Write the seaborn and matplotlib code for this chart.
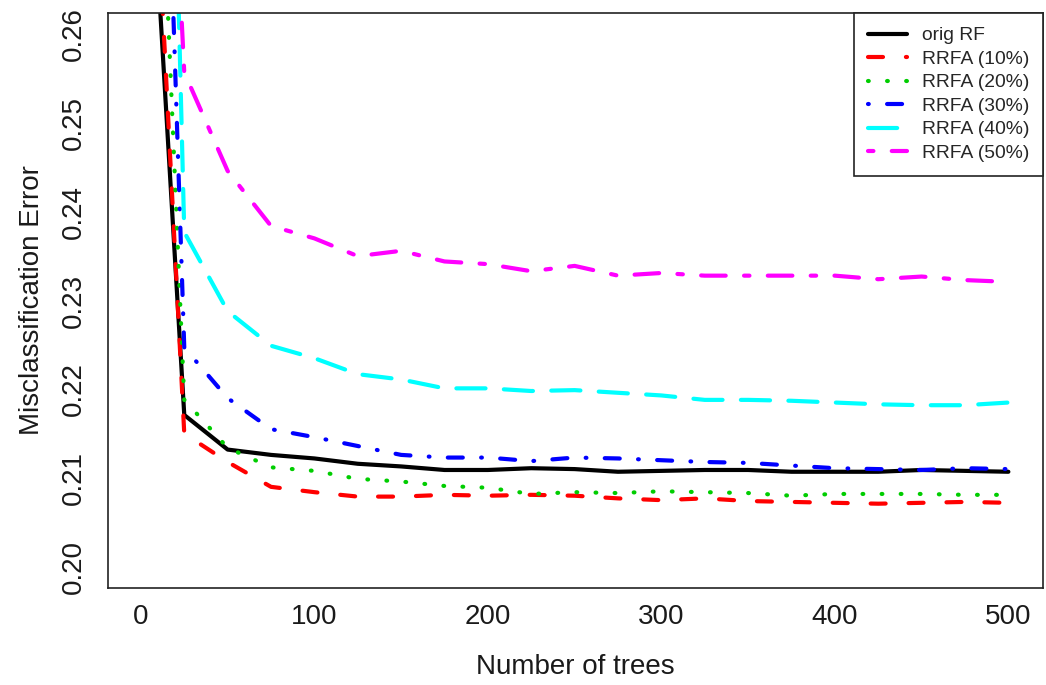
import matplotlib
matplotlib.use("Agg")
import matplotlib.pyplot as plt
import pandas as pd
import seaborn as sns

# Number of trees in the forest
trees = [1, 25, 50, 75, 100, 125, 150, 175, 200, 225, 250,
         275, 300, 325, 350, 375, 400, 425, 450, 475, 500]

# Misclassification error per method
orig_rf = [0.296, 0.2171, 0.2132, 0.2126, 0.2122, 0.2116, 0.2113, 0.2109, 0.2109, 0.2111, 0.2110,
           0.2107, 0.2108, 0.2109, 0.2109, 0.2107, 0.2107, 0.2107, 0.2109, 0.2108, 0.2107]
rrfa_10 = [0.307, 0.2150, 0.2118, 0.2090, 0.2084, 0.2079, 0.2079, 0.2081, 0.2080, 0.2081, 0.2080,
           0.2077, 0.2075, 0.2077, 0.2074, 0.2073, 0.2072, 0.2071, 0.2072, 0.2073, 0.2072]
rrfa_20 = [0.330, 0.2188, 0.2134, 0.2112, 0.2108, 0.2099, 0.2096, 0.2091, 0.2089, 0.2082, 0.2084,
           0.2083, 0.2085, 0.2084, 0.2083, 0.2080, 0.2082, 0.2082, 0.2082, 0.2081, 0.2081]
rrfa_30 = [0.368, 0.2247, 0.2190, 0.2155, 0.2146, 0.2136, 0.2126, 0.2123, 0.2123, 0.2119, 0.2123,
           0.2122, 0.2120, 0.2118, 0.2117, 0.2114, 0.2111, 0.2110, 0.2109, 0.2111, 0.2110]
rrfa_40 = [0.426, 0.2377, 0.2288, 0.2249, 0.2235, 0.2217, 0.2211, 0.2201, 0.2201, 0.2198, 0.2199,
           0.2196, 0.2193, 0.2188, 0.2188, 0.2187, 0.2185, 0.2183, 0.2182, 0.2182, 0.2185]
rrfa_50 = [0.350, 0.2557, 0.2446, 0.2384, 0.2370, 0.2350, 0.2356, 0.2344, 0.2341, 0.2333, 0.2339,
           0.2328, 0.2331, 0.2328, 0.2328, 0.2328, 0.2328, 0.2324, 0.2327, 0.2323, 0.2321]

methods = ["orig RF", "RRFA (10%)", "RRFA (20%)", "RRFA (30%)", "RRFA (40%)", "RRFA (50%)"]
series = [orig_rf, rrfa_10, rrfa_20, rrfa_30, rrfa_40, rrfa_50]
colors = ["#000000", "#FF0000", "#00CD00", "#0000FF", "#00FFFF", "#FF00FF"]

x_ticks = [0, 100, 200, 300, 400, 500]
x_tick_labels = ["0", "100", "200", "300", "400", "500"]
y_ticks = [0.20, 0.21, 0.22, 0.23, 0.24, 0.25, 0.26]
y_tick_labels = ["0.20", "0.21", "0.22", "0.23", "0.24", "0.25", "0.26"]

# R-like line types (solid, dashed, dotted, dotdash, longdash, twodash),
# expressed in line-width units for round-capped strokes
dash_map = {
    "orig RF": "",
    "RRFA (10%)": (3.6, 5.5),
    "RRFA (20%)": (0.18, 4.4),
    "RRFA (30%)": (0.18, 4.4, 3.6, 4.4),
    "RRFA (40%)": (7.0, 4.4),
    "RRFA (50%)": (1.3, 4.4, 5.9, 4.4),
}

df = pd.DataFrame({
    "trees": trees * len(methods),
    "error": [v for s in series for v in s],
    "method": [m for m in methods for _ in trees],
})

sns.set_theme(style="white")
plt.rcParams["font.family"] = ["Liberation Sans", "DejaVu Sans"]

W, H = 1046, 685
fig = plt.figure(figsize=(W / 100, H / 100), dpi=100)
ax = fig.add_axes([108 / W, 97 / H, 935 / W, 575 / H])

sns.lineplot(
    data=df, x="trees", y="error", hue="method", style="method",
    hue_order=methods, style_order=methods,
    palette=dict(zip(methods, colors)), dashes=dash_map,
    linewidth=3.0, errorbar=None, legend=False, ax=ax,
    dash_capstyle="round", solid_capstyle="round",
    dash_joinstyle="round", solid_joinstyle="round",
)

ax.set_xlim(-18.96, 519.96)
ax.set_ylim(0.1976, 0.2624)

ax.set_xticks(x_ticks)
ax.set_xticklabels(x_tick_labels)
ax.set_yticks(y_ticks)
ax.set_yticklabels(y_tick_labels, rotation=90, va="center")
ax.tick_params(axis="both", direction="out", length=8.2, width=1.0,
               colors="black", labelsize=20, labelcolor="#1a1a1a")
ax.tick_params(axis="x", pad=3.5)
ax.tick_params(axis="y", pad=7)

for sp in ax.spines.values():
    sp.set_visible(True)
    sp.set_color("#222222")
    sp.set_linewidth(1.2)

ax.set_xlabel("Number of trees", fontsize=20, color="#1a1a1a")
ax.set_ylabel("Misclassification Error", fontsize=20, color="#1a1a1a")
ax.xaxis.label.set_va("center")
ax.yaxis.label.set_va("center")
ax.xaxis.set_label_coords(0.5, -0.1374)
ax.yaxis.set_label_coords(-0.0810, 0.5)

leg = ax.legend(
    handles=list(ax.lines[:len(methods)]), labels=methods,
    loc="upper right", bbox_to_anchor=(1, 1), borderaxespad=0,
    frameon=True, fancybox=False, shadow=False, fontsize=13.9,
    handlelength=2.05, handletextpad=0.75, labelspacing=0.31, borderpad=0.72,
)
frame = leg.get_frame()
frame.set_edgecolor("#222222")
frame.set_linewidth(1.2)
frame.set_facecolor("white")
frame.set_alpha(1.0)

fig.savefig("out.png", dpi=100, facecolor="white")
